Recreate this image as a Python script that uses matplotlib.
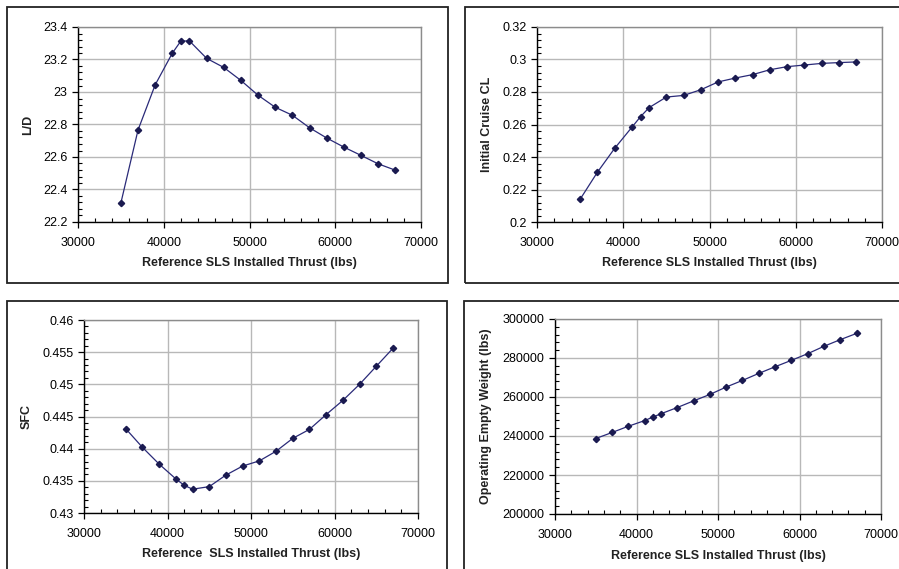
import matplotlib
matplotlib.use("Agg")
import matplotlib.pyplot as plt
from matplotlib.patches import Rectangle
from matplotlib.ticker import AutoMinorLocator, MultipleLocator

# Reference SLS installed thrust (lbs)
thrust = [35000, 37000, 39000, 41000, 42000, 43000, 45000, 47000, 49000,
          51000, 53000, 55000, 57000, 59000, 61000, 63000, 65000, 67000]

lift_drag = [22.317, 22.766, 23.044, 23.239, 23.314, 23.314, 23.207, 23.151, 23.071,
             22.980, 22.906, 22.857, 22.780, 22.717, 22.661, 22.610, 22.558, 22.519]

cruise_cl = [0.2140, 0.2306, 0.2453, 0.2583, 0.2648, 0.2704, 0.2769, 0.2779, 0.2814,
             0.2862, 0.2886, 0.2907, 0.2937, 0.2956, 0.2966, 0.2976, 0.2981, 0.2985]

sfc = [0.4431, 0.4402, 0.4376, 0.4353, 0.4343, 0.4337, 0.4341, 0.4359, 0.4373,
       0.4381, 0.4396, 0.4416, 0.4430, 0.4453, 0.4475, 0.4500, 0.4528, 0.4556]

oew = [238700, 241800, 245000, 247900, 249700, 251400, 254600, 258000, 261300,
       265100, 268500, 272100, 275500, 278800, 282200, 286000, 289400, 292600]

W, H = 899, 569
plt.rcParams["font.family"] = ["Liberation Sans", "DejaVu Sans"]

fig = plt.figure(figsize=(W / 100, H / 100), dpi=100)
fig.patch.set_facecolor("white")

LINE = "#2a2a78"
MARK = "#1a1a50"
GRID = "#b8b8b8"


def px_rect(left, top, right, bottom):
    return [left / W, 1 - bottom / H, (right - left) / W, (bottom - top) / H]


def panel_border(left, top, right, bottom):
    # Excel-style chart area frame (right/bottom may run off the page)
    r = Rectangle((left / W, 1 - bottom / H), (right - left) / W, (bottom - top) / H,
                  transform=fig.transFigure, fill=False, edgecolor="#222222",
                  linewidth=1.3, zorder=0)
    fig.add_artist(r)


def fmt_general(v, pos):
    return f"{v:.4f}".rstrip("0").rstrip(".")


def make_panel(rect, y, ylim, ystep, yfmt, ylabel, ylabel_xy, xlabel, xlabel_xy):
    ax = fig.add_axes(rect)
    ax.plot(thrust, y, color=LINE, linewidth=0.9, marker="D", markersize=3.2,
            markerfacecolor=MARK, markeredgecolor=MARK, zorder=3)
    ax.set_xlim(30000, 70000)
    ax.set_ylim(*ylim)
    ax.xaxis.set_major_locator(MultipleLocator(10000))
    ax.xaxis.set_minor_locator(AutoMinorLocator(5))
    ax.yaxis.set_major_locator(MultipleLocator(ystep))
    ax.yaxis.set_minor_locator(AutoMinorLocator(5))
    ax.yaxis.set_major_formatter(yfmt)
    ax.grid(which="major", color=GRID, linewidth=1.0)
    ax.set_axisbelow(True)

    for side in ("top", "right"):
        ax.spines[side].set_color("#8c8c8c")
        ax.spines[side].set_linewidth(1.0)
    for side in ("left", "bottom"):
        ax.spines[side].set_color("black")
        ax.spines[side].set_linewidth(1.0)

    ax.tick_params(which="major", direction="out", length=4, width=0.9,
                   labelsize=9, colors="black")
    ax.tick_params(axis="x", which="major", pad=6.5)
    ax.tick_params(axis="y", which="major", pad=3.5)
    ax.tick_params(which="minor", direction="in", length=3, width=0.8)

    ax.set_xlabel(xlabel, fontsize=9, fontweight="bold", color="#222222", va="center")
    ax.xaxis.set_label_coords(xlabel_xy[0] / W, 1 - xlabel_xy[1] / H,
                              transform=fig.transFigure)
    ax.set_ylabel(ylabel, fontsize=9, fontweight="bold", color="#222222", va="center")
    ax.yaxis.set_label_coords(ylabel_xy[0] / W, 1 - ylabel_xy[1] / H,
                              transform=fig.transFigure)
    return ax


panel_border(7, 7, 448, 283)
panel_border(465, 7, 960, 283)
panel_border(7, 301, 447, 620)
panel_border(464, 301, 960, 620)

make_panel(px_rect(78, 27, 421, 222), lift_drag, (22.2, 23.4), 0.2, fmt_general,
           "L/D", (28, 124.5), "Reference SLS Installed Thrust (lbs)", (249.5, 263))

make_panel(px_rect(537, 27, 882, 222), cruise_cl, (0.2, 0.32), 0.02, fmt_general,
           "Initial Cruise CL", (487, 124.5),
           "Reference SLS Installed Thrust (lbs)", (709.5, 263))

make_panel(px_rect(84, 320, 418, 513), sfc, (0.43, 0.46), 0.005, fmt_general,
           "SFC", (27, 416.5), "Reference  SLS Installed Thrust (lbs)", (251, 554))

make_panel(px_rect(555, 319, 881, 514), oew, (200000, 300000), 20000,
           lambda v, pos: f"{v:.0f}",
           "Operating Empty Weight (lbs)", (486, 416.5),
           "Reference SLS Installed Thrust (lbs)", (718, 556))

fig.savefig("out.png", dpi=100, facecolor="white")
